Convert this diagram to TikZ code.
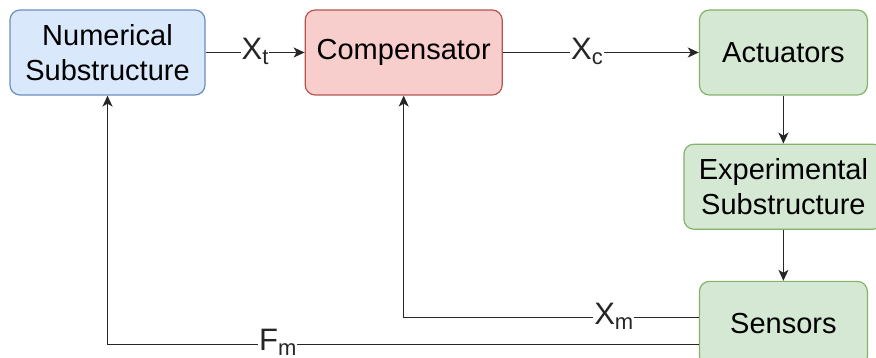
\documentclass[tikz,border=0pt]{standalone}
\usepackage{fontspec}
\setmainfont{Liberation Sans}
\usetikzlibrary{arrows.meta,calc,positioning}
\definecolor{numfill}{HTML}{DAE8FC}
\definecolor{numdraw}{HTML}{6C8EBF}
\definecolor{compfill}{HTML}{F8CECC}
\definecolor{compdraw}{HTML}{B85450}
\definecolor{expfill}{HTML}{D5E8D4}
\definecolor{expdraw}{HTML}{82B366}
\newcommand{\sigsub}[1]{\raisebox{-5pt}{\fontsize{22}{22}\selectfont #1}}

\begin{document}
\begin{tikzpicture}[
    x=1pt, y=1pt,
    font=\fontsize{29}{35}\selectfont,
    block/.style={draw, line width=1.2pt, rounded corners=10pt, minimum width=168pt,
                  minimum height=85pt, align=center, inner sep=2pt},
    numerical/.style={block, draw=numdraw, fill=numfill, minimum width=195pt},
    comp/.style={block, draw=compdraw, fill=compfill, minimum width=197pt},
    rig/.style={block, draw=expdraw, fill=expfill},
    arrow/.style={-{Stealth[length=11pt, width=10pt, inset=3pt]}, line width=1.5pt, black!85},
    sig/.style={fill=white, inner sep=1pt, anchor=base, yshift=-7.5pt,
                font=\fontsize{31}{31}\selectfont}
]
\useasboundingbox (0,0) rectangle (876,-358);
\clip (0,0) rectangle (876,-358);

\node[numerical] (num) at (107.5,-52.5) {Numerical\\Substructure};
\node[comp, right=99pt of num] (comp) {Compensator};
\node[rig, right=196pt of comp] (act) {Actuators};
\node[rig, below=48pt of act, minimum width=199pt] (exp) {Experimental\\Substructure};
\node[rig, below=51pt of exp] (sens) {Sensors};

\draw[arrow] (num) -- node[sig] {X\sigsub{t}} (comp);
\draw[arrow] (comp) -- node[sig, pos=0.43] {X\sigsub{c}} (act);
\draw[arrow] (act) -- (exp);
\draw[arrow] (exp) -- (sens);

% feedback paths
\draw[arrow] ([yshift=6.5pt]sens.west) -| node[sig, pos=0.144] {X\sigsub{m}} (comp.south);
\draw[arrow] ([yshift=-20.5pt]sens.west) -| node[sig, pos=0.356, yshift=1.5pt] {F\sigsub{m}} (num.south);
\end{tikzpicture}
\end{document}
